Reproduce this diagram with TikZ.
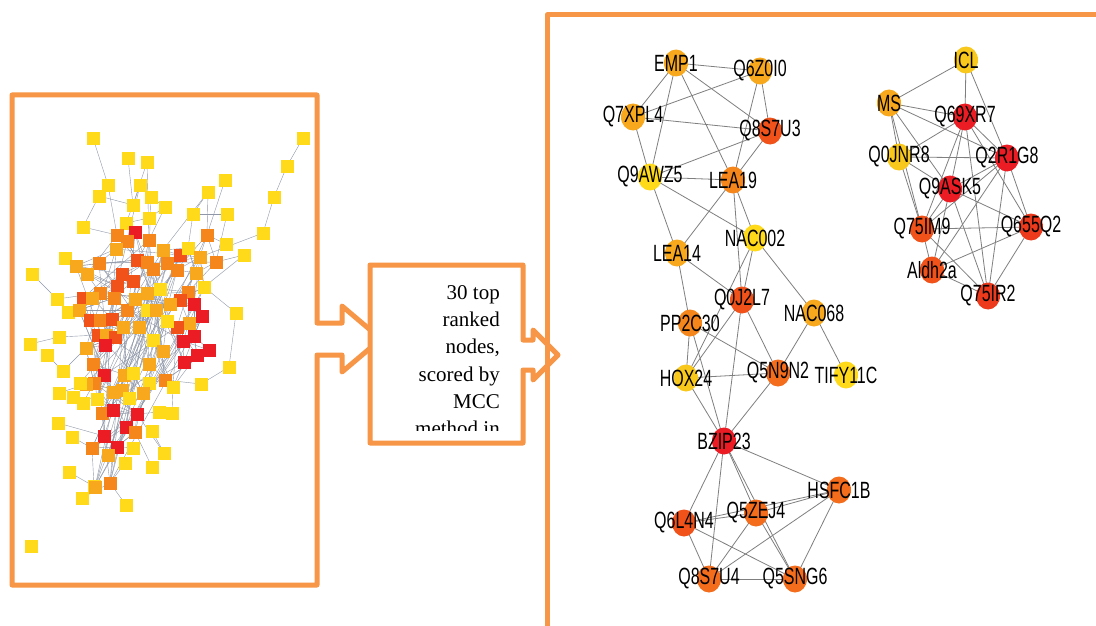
\documentclass[tikz,border=0pt]{standalone}
\usepackage{fontspec}
\usepackage{graphicx}
\setmainfont{Liberation Serif}
\newfontfamily\arialf{Liberation Sans}
\usetikzlibrary{shapes.geometric,backgrounds}
\definecolor{frame}{HTML}{F79646}
\definecolor{cy}{HTML}{FFDA1A}
\definecolor{cyy}{HTML}{F9C81C}
\definecolor{ca}{HTML}{F7A81C}
\definecolor{co}{HTML}{F5861C}
\definecolor{coo}{HTML}{F46D1C}
\definecolor{cr}{HTML}{F0521A}
\definecolor{crr}{HTML}{EE3A1C}
\definecolor{cR}{HTML}{EC1C24}
\definecolor{edge}{HTML}{7F7F7F}
\definecolor{ledge}{HTML}{9098A8}
\newcommand{\lb}[1]{\scalebox{0.68}[1]{#1}}
\tikzset{
  framepath/.style={draw=frame, line width=5pt, line join=round, line cap=round},
  net/.style={ellipse, minimum width=24pt, minimum height=27pt, inner sep=0pt, draw=none},
  lab/.style={font=\arialf\fontsize{23.5}{23.5}\selectfont, inner sep=0pt, text=black},
  sq/.style={rectangle, minimum size=13pt, inner sep=0pt, draw=none},
  redge/.style={draw=edge, line width=0.8pt},
  ledgestyle/.style={draw=ledge, line width=0.4pt}
}
\begin{document}
\begin{tikzpicture}[x=1pt,y=-1pt]
\useasboundingbox (0,0) rectangle (1096,626);
\begin{pgfonlayer}{background}
\fill[white] (0,0) rectangle (1096,626);
\end{pgfonlayer}

% ---------------- left panel: squares ----------------
\foreach [count=\i] \x/\y/\c in {
93/138/cy,128/158/cy,147/162/cy,108/185/cy,140/185/cy,99/196/cy,151/197/cy,133/205/cy,165/207/cy,83/227/cy,
149/218/cy,126/223/cy,193/214/cy,208/192/cy,225/180/cy,227/214/cy,303/138/cy,287/166/cy,274/197/cy,263/233/cy,
244/255/cy,226/244/cy,65/258/cy,32/274/cy,57/299/cy,68/312/cy,236/313/cy,30/344/cy,59/337/cy,47/355/cy,
63/371/cy,229/367/cy,201/384/cy,59/393/cy,73/397/cy,83/403/cy,58/423/cy,72/437/cy,172/413/cy,159/412/cy,
152/431/cy,164/453/cy,152/467/cy,69/472/cy,82/498/cy,126/505/cy,94/486/cy,31/546/cy,133/448/cy,125/463/cy,
135/232/cR,149/240/co,117/235/co,127/241/co,116/249/ca,137/260/cr,147/262/co,99/263/co,76/266/ca,87/274/ca,
122/274/cr,133/281/cr,117/286/cr,100/293/co,83/298/cr,114/298/co,92/298/ca,79/310/ca,90/320/cr,100/320/co,
112/319/cr,127/310/co,98/335/cr,106/335/ca,115/337/cr,105/345/cR,86/348/ca,93/364/co,104/375/cR,94/383/co,
113/392/ca,97/399/cy,102/413/co,113/410/cR,137/414/cR,126/427/cR,135/432/co,104/436/cR,117/447/cR,92/448/co,
108/455/ca,110/483/co,95/487/ca,180/255/cr,167/263/co,163/250/ca,177/270/co,188/248/cy,200/257/ca,207/235/co,
216/262/co,196/273/ca,204/287/cy,188/292/co,180/300/cr,194/304/cR,202/316/cR,189/323/ca,177/327/cr,194/336/cR,
183/341/cR,197/355/cR,209/350/cR,184/362/cR,165/380/co,173/387/cy,149/383/cy,149/364/ca,153/340/cy,163/351/ca,
139/327/ca,147/310/cy,156/310/ca,167/321/cy,170/304/ca,160/289/cy,147/293/ca,135/299/ca,153/269/co,123/327/ca,
124/375/ca,133/373/cy,122/390/ca,129/398/cy,143/393/ca,86/384/ca,80/383/cy}
  \node[sq, fill=\c] (s\i) at (\x,\y) {};

\begin{pgfonlayer}{background}
\foreach \a/\b in {1/4,2/8,3/8,4/6,5/8,6/10,6/8,7/9,8/12,9/11,11/12,12/51,9/52,7/122,
  13/14,13/16,14/100,15/100,16/101,17/18,18/19,19/20,21/101,22/100,23/59,24/25,25/64,
  26/68,27/103,27/32,28/29,29/73,30/31,31/77,32/33,33/115,34/136,35/82,36/80,37/88,
  38/90,39/116,40/85,41/42,42/85,43/87,44/93,45/92,46/92,47/90,49/89,50/92,10/53,3/52,
  4/53,5/54,20/99,21/103,13/98,14/96}
  \draw[ledgestyle] (s\a.center) -- (s\b.center);
\pgfmathsetseed{4217}
\foreach \i in {51,...,133}{
  \pgfmathrandominteger{\k}{1}{5}
  \pgfmathtruncatemacro{\j}{\i+\k}
  \draw[ledgestyle] (s\i.center) -- (s\j.center);
  \pgfmathrandominteger{\k}{2}{4}
  \pgfmathtruncatemacro{\j}{\i+\k}
  \draw[ledgestyle] (s\i.center) -- (s\j.center);
  \pgfmathrandominteger{\k}{51}{137}
  \draw[ledgestyle] (s\i.center) -- (s\k.center);
}
\end{pgfonlayer}

% ---------------- frames ----------------
\draw[framepath] (12,95) -- (317,95) -- (317,323) -- (342,323) -- (342,306) -- (381,339)
  -- (342,372) -- (342,355) -- (317,355) -- (317,585) -- (12,585) -- cycle;
\draw[framepath, fill=white] (370,265) -- (523,265) -- (523,340) -- (533,340) -- (533,330)
  -- (558,355) -- (533,380) -- (533,370) -- (523,370) -- (523,443) -- (370,443) -- cycle;
\draw[framepath, line cap=butt] (547,630) -- (547,15) -- (1100,15);

\begin{scope}
\clip (373,268) rectangle (520,430);
\node[anchor=north east, align=right, inner sep=0pt,
      font=\fontsize{21}{27.3}\selectfont] (mtext) at (500,285)
  {30 top\\ranked\\nodes,\\scored by\\MCC\\method in};
\end{scope}

% ---------------- right network ----------------
\foreach \n/\x/\y/\c/\t in {
emp/676/63/ca/EMP1, q6z/760/71/ca/Q6Z0I0, q7x/633/117/ca/Q7XPL4, q8s3/770/131/cr/Q8S7U3,
q9aw/650/177/cy/Q9AWZ5, lea19/733/180/co/LEA19, lea14/677/253/ca/LEA14, nac002/755/238/cy/NAC002,
q0j/742/300/cr/Q0J2L7, pp2c/690/323/co/PP2C30, nac068/814/313/ca/NAC068, hox/686/378/cyy/HOX24,
q5n9/778/373/coo/Q5N9N2, tify/846/375/cy/TIFY11C, bzip/724/441/cR/BZIP23, hsfc/839/490/coo/HSFC1B,
q6l/684/523/cr/Q6L4N4, q5ze/756/513/coo/Q5ZEJ4, q8s4/709/579/coo/Q8S7U4, q5sn/795/579/coo/Q5SNG6,
icl/966/60/cyy/ICL, ms/889/103/ca/MS, q69/965/117/cR/Q69XR7, q0jn/899/157/cyy/Q0JNR8,
q2r/1007/158/cR/Q2R1G8, q9as/950/189/cR/Q9ASK5, q75im/922/229/cr/Q75IM9, q655/1031/227/crr/Q655Q2,
aldh/932/270/cr/Aldh2a, q75ir/988/296/crr/Q75IR2}
  \node[net, fill=\c, label={[lab]center:\lb{\t}}] (\n) at (\x,\y) {};

\begin{pgfonlayer}{background}
\foreach \a/\b in {emp/q6z,emp/q7x,emp/q8s3,emp/lea19,emp/q9aw,q7x/q6z,q7x/q8s3,q7x/q9aw,
  q6z/q8s3,q6z/lea19,q8s3/q9aw,q8s3/lea19,q9aw/lea19,q9aw/nac002,q9aw/lea14,lea19/lea14,
  lea19/nac002,lea19/q0j,nac002/q0j,nac002/nac068,nac002/hox,lea14/q0j,lea14/pp2c,
  q0j/hox,q0j/q5n9,q0j/bzip,pp2c/hox,pp2c/q5n9,pp2c/bzip,hox/q5n9,hox/bzip,q5n9/bzip,
  q5n9/nac068,nac068/tify,
  bzip/hsfc,bzip/q6l,bzip/q8s4,bzip/q5ze,bzip/q5sn,hsfc/q5ze,hsfc/q6l,hsfc/q8s4,hsfc/q5sn,
  q6l/q5ze,q6l/q8s4,q6l/q5sn,q5ze/q8s4,q5ze/q5sn,q8s4/q5sn,
  icl/ms,icl/q69,icl/q2r,ms/q69,ms/q2r,ms/q0jn,ms/q9as,ms/q75im,q69/q0jn,q69/q2r,q69/q9as,
  q69/q75im,q69/q75ir,q69/q655,q0jn/q2r,q0jn/q9as,q0jn/q75im,q2r/q9as,q2r/q75im,q2r/q655,
  q2r/q75ir,q2r/aldh,q9as/q75im,q9as/q655,q9as/aldh,q9as/q75ir,q75im/q655,q75im/aldh,
  q75im/q75ir,q655/aldh,q655/q75ir,aldh/q75ir}
  \draw[redge] (\a.center) -- (\b.center);
\end{pgfonlayer}
\end{tikzpicture}
\end{document}
